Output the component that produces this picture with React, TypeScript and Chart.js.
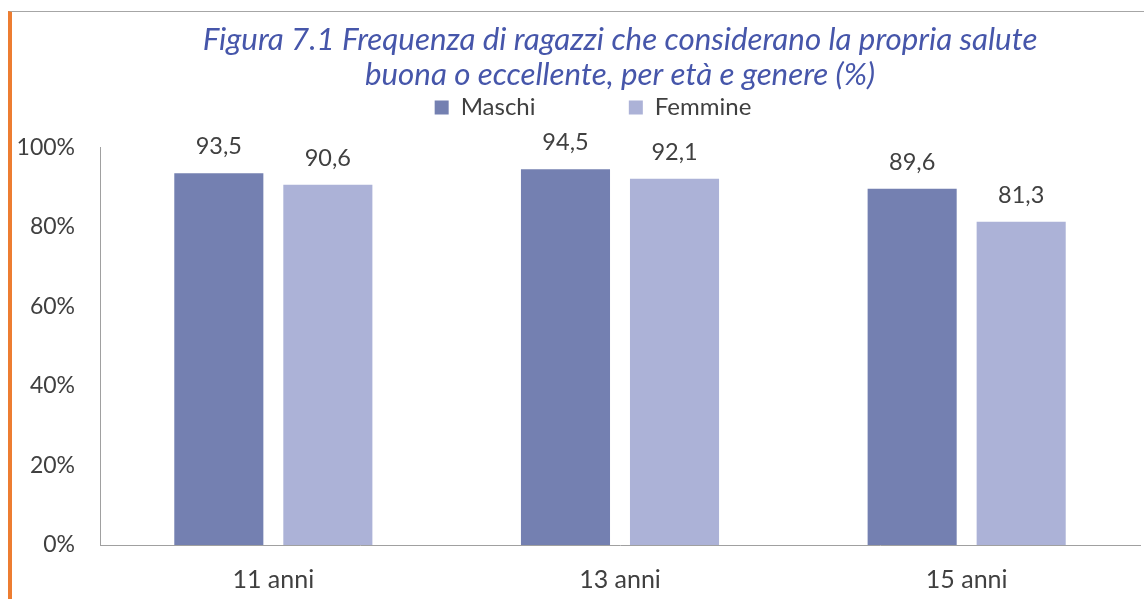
import React, { useEffect, useRef } from "react";
import { Chart, registerables } from "chart.js";

Chart.register(...registerables);

const categories = ["11 anni", "13 anni", "15 anni"];
const maschi = [93.5, 94.5, 89.6];
const femmine = [90.6, 92.1, 81.3];
const seriesNames = ["Maschi", "Femmine"];
const titleLines = [
  "Figura 7.1 Frequenza di ragazzi che considerano la propria salute",
  "buona o eccellente, per età e genere (%)",
];
const yTicks = [0, 20, 40, 60, 80, 100];

const FONT = "Lato, 'Open Sans', sans-serif";
const TEXT = "#404040";

const valueLabels = {
  id: "valueLabels",
  afterDatasetsDraw(chart: any) {
    const { ctx } = chart;
    ctx.save();
    ctx.font = `23.5px ${FONT}`;
    ctx.fillStyle = TEXT;
    ctx.textAlign = "center";
    ctx.textBaseline = "alphabetic";
    chart.data.datasets.forEach((ds: any, i: number) => {
      const meta = chart.getDatasetMeta(i);
      meta.data.forEach((el: any, j: number) => {
        const v = ds.data[j] as number;
        ctx.fillText(v.toFixed(1).replace(".", ","), el.x, el.y - 19);
      });
    });
    ctx.restore();
  },
};

export default function App() {
  const ref = useRef<HTMLCanvasElement | null>(null);

  useEffect(() => {
    if (!ref.current) return;
    const chart = new Chart(ref.current, {
      type: "bar",
      data: {
        labels: categories,
        datasets: [
          {
            label: seriesNames[0],
            data: maschi,
            backgroundColor: "#7480B1",
            borderWidth: 0,
            categoryPercentage: 0.629,
            barPercentage: 0.817,
          },
          {
            label: seriesNames[1],
            data: femmine,
            backgroundColor: "#ACB2D7",
            borderWidth: 0,
            categoryPercentage: 0.629,
            barPercentage: 0.817,
          },
        ],
      },
      options: {
        animation: false,
        responsive: true,
        maintainAspectRatio: false,
        layout: { padding: { left: 0, right: 4, top: 0, bottom: 0 } },
        plugins: {
          title: {
            display: true,
            text: titleLines,
            fullSize: false,
            color: "#4656AA",
            font: { family: FONT, size: 31.3, style: "italic", weight: "normal", lineHeight: 1.12 },
            padding: { top: 10, bottom: 0 },
          },
          subtitle: {
            display: true,
            text: "",
            position: "top",
            fullSize: false,
            weight: 500,
            font: { size: 1, lineHeight: 1 },
            padding: { top: 17, bottom: 0 },
          },
          legend: {
            display: true,
            position: "top",
            fullSize: false,
            labels: {
              color: TEXT,
              font: { family: FONT, size: 24 },
              boxWidth: 14,
              boxHeight: 14,
              padding: 3.3,
              generateLabels(chart: any) {
                const items = Chart.defaults.plugins.legend.labels.generateLabels(chart);
                items.forEach((it: any, i: number) => {
                  it.text =
                    i === 0
                      ? it.text + "\u2003\u2003\u2003\u2003\u2003"
                      : it.text + "\u2003\u2003\u2003";
                  it.lineWidth = 0;
                });
                return items;
              },
            },
          },
          tooltip: { enabled: false },
        },
        scales: {
          x: {
            grid: { display: false, drawTicks: false },
            border: { display: true, color: "#A0A0A0", width: 1 },
            ticks: { color: TEXT, font: { family: FONT, size: 25 }, padding: 20 },
            afterFit(s: any) {
              s.height = 54;
            },
          },
          y: {
            min: 0,
            max: 100,
            afterBuildTicks(s: any) {
              s.ticks = yTicks.map((v) => ({ value: v }));
            },
            grid: { display: false, drawTicks: false },
            border: { display: true, color: "#A0A0A0", width: 1 },
            ticks: {
              color: TEXT,
              font: { family: FONT, size: 23 },
              padding: 25,
              callback: (v: any) => `${v}%`,
            },
            afterFit(s: any) {
              s.width = 88;
            },
          },
        },
      },
      plugins: [valueLabels],
    });
    return () => chart.destroy();
  }, []);

  return (
    <div
      style={{
        position: "absolute",
        left: 8,
        top: 11,
        width: 1136,
        height: 588,
        borderLeft: "4px solid #ED7D31",
        borderTop: "1px solid #A6A6A6",
        boxSizing: "border-box",
        background: "#fff",
      }}
    >
      <div style={{ position: "relative", width: 1132, height: 587 }}>
        <canvas ref={ref} style={{ display: "block" }} />
      </div>
    </div>
  );
}
